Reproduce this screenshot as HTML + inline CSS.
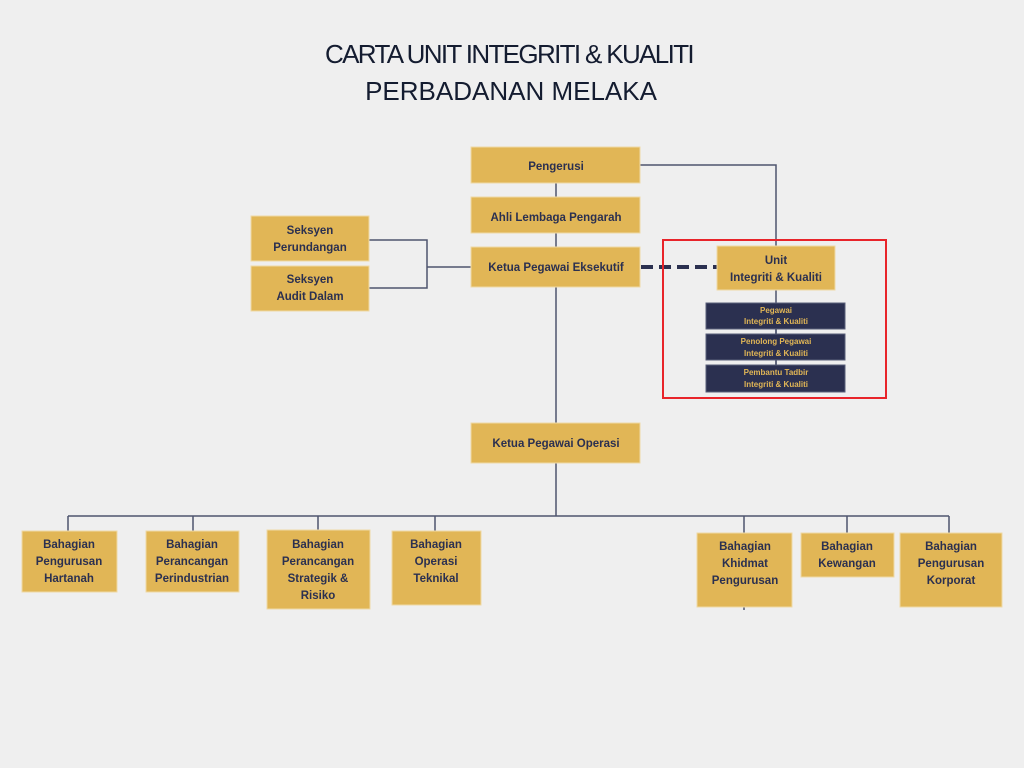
<!DOCTYPE html>
<html><head><meta charset="utf-8"><style>
html,body{margin:0;padding:0;background:#efefef;}
svg{display:block;}
.t{font-family:"Liberation Sans",Arial,sans-serif;font-weight:bold;font-size:11.5px;fill:#2b3050;text-anchor:middle;}
.s{font-family:"Liberation Sans",Arial,sans-serif;font-weight:bold;font-size:8px;fill:#e1b656;text-anchor:middle;}
.g{fill:#e1b656;stroke:#efd9a6;stroke-width:1;}
.n{fill:#2b3050;stroke:#5a5f7a;stroke-width:1;}
.l{stroke:#4f556e;stroke-width:1.5;fill:none;}
</style></head><body>
<svg width="1024" height="768" viewBox="0 0 1024 768" xmlns="http://www.w3.org/2000/svg">
<rect width="1024" height="768" fill="#efefef"/>
<text x="509" y="63" font-family="'Liberation Sans',Arial,sans-serif" font-size="26" fill="#141c30" text-anchor="middle" letter-spacing="-1.65">CARTA UNIT INTEGRITI &amp; KUALITI</text>
<text x="511" y="100" font-family="'Liberation Sans',Arial,sans-serif" font-size="26" fill="#141c30" text-anchor="middle">PERBADANAN MELAKA</text>

<!-- connectors -->
<path class="l" d="M556 183V197M556 233V247M556 287V423M556 463V516M68 516H949"/>
<path class="l" d="M640 165H776V246M776 290V386"/>
<path class="l" d="M369 240H427V288H369M427 267H471"/>
<path class="l" d="M68 516V531M193 516V531M318 516V530M435 516V531M744 516V533M847 516V533M949 516V533M744 607V610"/>
<line x1="641" y1="267" x2="717" y2="267" stroke="#2b3050" stroke-width="4" stroke-dasharray="12 6"/>

<!-- top boxes -->
<rect class="g" x="471" y="147" width="169" height="36"/>
<text class="t" x="556" y="170">Pengerusi</text>
<rect class="g" x="471" y="197" width="169" height="36"/>
<text class="t" x="556" y="221">Ahli Lembaga Pengarah</text>
<rect class="g" x="471" y="247" width="169" height="40"/>
<text class="t" x="556" y="271">Ketua Pegawai Eksekutif</text>
<rect class="g" x="251" y="216" width="118" height="45"/>
<text class="t" x="310" y="234">Seksyen</text>
<text class="t" x="310" y="251">Perundangan</text>
<rect class="g" x="251" y="266" width="118" height="45"/>
<text class="t" x="310" y="283">Seksyen</text>
<text class="t" x="310" y="300">Audit Dalam</text>

<!-- unit -->
<rect x="663" y="240" width="223" height="158" fill="none" stroke="#e8242a" stroke-width="2"/>
<rect class="g" x="717" y="246" width="118" height="44"/>
<text class="t" x="776" y="264">Unit</text>
<text class="t" x="776" y="281">Integriti &amp; Kualiti</text>
<rect class="n" x="706" y="303" width="139" height="26"/>
<text class="s" x="776" y="313">Pegawai</text>
<text class="s" x="776" y="324">Integriti &amp; Kualiti</text>
<rect class="n" x="706" y="334" width="139" height="26"/>
<text class="s" x="776" y="344">Penolong Pegawai</text>
<text class="s" x="776" y="356">Integriti &amp; Kualiti</text>
<rect class="n" x="706" y="365" width="139" height="27"/>
<text class="s" x="776" y="375">Pembantu Tadbir</text>
<text class="s" x="776" y="387">Integriti &amp; Kualiti</text>
<line x1="776" y1="329" x2="776" y2="334" class="l"/>
<line x1="776" y1="360" x2="776" y2="365" class="l"/>

<!-- KPO -->
<rect class="g" x="471" y="423" width="169" height="40"/>
<text class="t" x="556" y="447">Ketua Pegawai Operasi</text>

<!-- bottom -->
<rect class="g" x="22" y="531" width="95" height="61"/>
<text class="t" x="69" y="548">Bahagian</text>
<text class="t" x="69" y="565">Pengurusan</text>
<text class="t" x="69" y="582">Hartanah</text>

<rect class="g" x="146" y="531" width="93" height="61"/>
<text class="t" x="192" y="548">Bahagian</text>
<text class="t" x="192" y="565">Perancangan</text>
<text class="t" x="192" y="582">Perindustrian</text>

<rect class="g" x="267" y="530" width="103" height="79"/>
<text class="t" x="318" y="548">Bahagian</text>
<text class="t" x="318" y="565">Perancangan</text>
<text class="t" x="318" y="582">Strategik &amp;</text>
<text class="t" x="318" y="599">Risiko</text>

<rect class="g" x="392" y="531" width="89" height="74"/>
<text class="t" x="436" y="548">Bahagian</text>
<text class="t" x="436" y="565">Operasi</text>
<text class="t" x="436" y="582">Teknikal</text>

<rect class="g" x="697" y="533" width="95" height="74"/>
<text class="t" x="745" y="550">Bahagian</text>
<text class="t" x="745" y="567">Khidmat</text>
<text class="t" x="745" y="584">Pengurusan</text>

<rect class="g" x="801" y="533" width="93" height="44"/>
<text class="t" x="847" y="550">Bahagian</text>
<text class="t" x="847" y="567">Kewangan</text>

<rect class="g" x="900" y="533" width="102" height="74"/>
<text class="t" x="951" y="550">Bahagian</text>
<text class="t" x="951" y="567">Pengurusan</text>
<text class="t" x="951" y="584">Korporat</text>
</svg>
</body></html>
